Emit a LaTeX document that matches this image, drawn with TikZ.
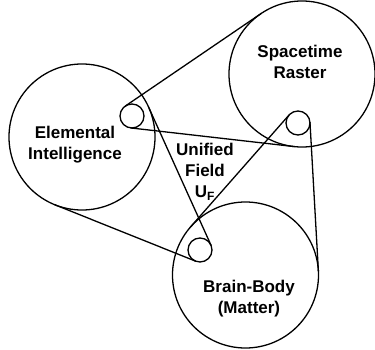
\documentclass[tikz,border=0pt]{standalone}
\usepackage{fontspec}
\setmainfont{Liberation Sans}
\tikzset{
  wheel/.style={circle,draw,line width=1.3pt,minimum size=146pt,inner sep=0pt,outer sep=0pt},
  pulley/.style={wheel,minimum size=24pt},
  belt/.style={line width=1.3pt,line cap=round},
  lbl/.style={align=center,inner sep=0pt,font=\fontsize{17}{21}\selectfont\bfseries}
}
\begin{document}
\begin{tikzpicture}[x=1pt,y=1pt]
  \useasboundingbox (0,0) rectangle (375,349);
  % big wheels
  \node[wheel] (ei) at (82,212) {};
  \node[wheel] (sr) at (302,275) {};
  \node[wheel] (bb) at (245.5,74) {};
  % small pulleys
  \node[pulley] (eip) at (132,233) {};
  \node[pulley] (srp) at (298,226) {};
  \node[pulley] (bbp) at (200,99) {};

  \node[lbl] (eitxt) at (75,204) {Elemental\\Intelligence};
  \node[lbl] (srtxt) at (300,287) {Spacetime\\Raster};
  \node[lbl] (bbtxt) at (249,50) {Brain-Body\\(Matter)};
  \node[lbl] (uf) at (205,177) {Unified\\Field\\U\textsubscript{\large F}};

  % belts: big wheel to the next pulley
  \foreach \a/\b/\t in {sr/eip/124,sr/eip/264,ei/bbp/24,ei/bbp/-112,bb/srp/139,bb/srp/3}
    \draw[belt] (\a.\t) -- (\b.\t);
\end{tikzpicture}
\end{document}
